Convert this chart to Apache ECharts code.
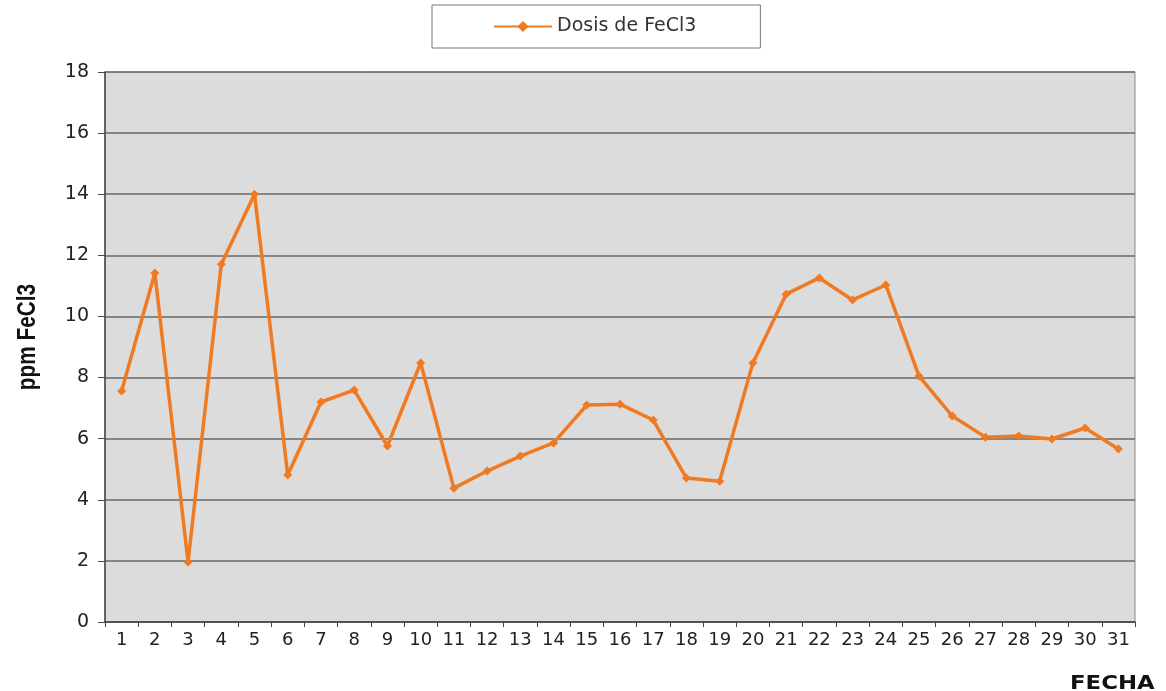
<!DOCTYPE html>
<html>
<head>
<meta charset="utf-8">
<script src="https://cdn.jsdelivr.net/npm/echarts@6/dist/echarts.min.js"></script>
<style>
  html, body { margin: 0; padding: 0; background: #fff; }
  #main { width: 1166px; height: 691px; }
</style>
</head>
<body>
<div id="main"></div>
<script>
// dias del mes
const dias = ['1','2','3','4','5','6','7','8','9','10','11','12','13','14','15','16',
  '17','18','19','20','21','22','23','24','25','26','27','28','29','30','31'];
// dosis de FeCl3 (ppm)
const dosis = [7.56, 11.42, 1.96, 11.71, 14.0, 4.81, 7.2, 7.59, 5.76, 8.48, 4.38,
  4.94, 5.43, 5.86, 7.1, 7.13, 6.61, 4.71, 4.61, 8.48, 10.73, 11.26, 10.54, 11.03,
  8.05, 6.74, 6.05, 6.09, 5.99, 6.35, 5.66];

let myChart = echarts.init(document.getElementById('main'));

let option = {
  animation: false,
  backgroundColor: '#fff',
  legend: {
    left: 432,
    top: 5,
    padding: [12, 64, 12, 61],
    borderColor: '#777',
    borderWidth: 1,
    itemWidth: 58,
    itemHeight: 14,
    itemGap: 2,
    textStyle: { fontFamily: 'DejaVu Sans', fontSize: 19, color: '#333' },
    data: ['Dosis de FeCl3']
  },
  grid: {
    left: 105, right: 31, top: 72, bottom: 69,
    show: true,
    backgroundColor: '#dcdcdc',
    borderColor: '#8a8a8a',
    borderWidth: 1
  },
  xAxis: {
    type: 'category',
    data: dias,
    boundaryGap: true,
    axisLine: { lineStyle: { color: '#444', width: 1.5 } },
    axisTick: { show: true, length: 5, lineStyle: { color: '#444' } },
    axisLabel: { fontFamily: 'DejaVu Sans', fontSize: 18, color: '#222', margin: 9 }
  },
  yAxis: {
    type: 'value',
    min: 0, max: 18, interval: 2,
    axisLine: { show: true, lineStyle: { color: '#444', width: 1.5 } },
    axisTick: { show: true, length: 7, lineStyle: { color: '#444' } },
    axisLabel: { fontFamily: 'DejaVu Sans', fontSize: 19, color: '#222', margin: 16 },
    splitLine: { lineStyle: { color: '#6a6a6a', width: 1.5 } }
  },
  graphic: [{
    type: 'text',
    x: 28,
    y: 337,
    rotation: Math.PI / 2,
    scaleX: 0.8,
    style: {
      text: 'ppm FeCl3', align: 'center', verticalAlign: 'middle',
      fontFamily: 'Liberation Sans', fontWeight: 'bold', fontSize: 26, fill: '#111'
    }
  }, {
    type: 'text',
    x: 1070,
    y: 675,
    scaleX: 1.2,
    style: { text: 'FECHA', fontFamily: 'DejaVu Sans', fontWeight: 'bold', fontSize: 19, fill: '#111' }
  }],
  series: [{
    name: 'Dosis de FeCl3',
    type: 'line',
    data: dosis,
    symbol: 'diamond',
    symbolSize: 9,
    lineStyle: { color: '#f07a22', width: 3.5 },
    itemStyle: { color: '#f07a22' }
  }]
};

myChart.setOption(option);
</script>
</body>
</html>
